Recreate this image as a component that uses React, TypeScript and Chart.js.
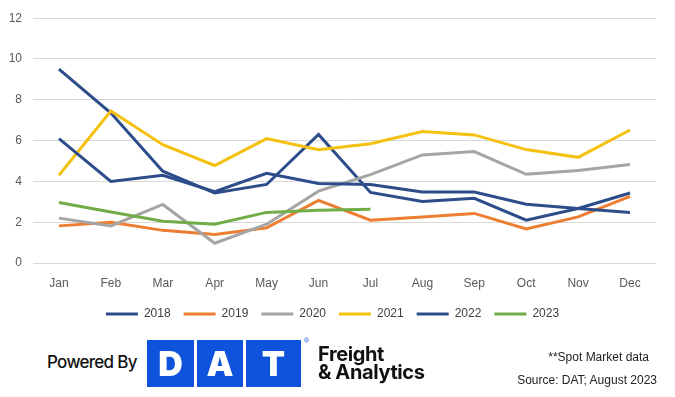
import React, { useEffect, useRef } from "react";
import { Chart, registerables } from "chart.js";

Chart.register(...registerables);

const months = ["Jan", "Feb", "Mar", "Apr", "May", "Jun", "Jul", "Aug", "Sep", "Oct", "Nov", "Dec"];
const yearLabels = ["2018", "2019", "2020", "2021", "2022", "2023"];
const s2018 = [9.5, 7.35, 4.5, 3.43, 3.85, 6.3, 3.46, 3.02, 3.17, 2.1, 2.67, 3.43];
const s2019 = [1.82, 2.0, 1.6, 1.4, 1.72, 3.07, 2.1, 2.25, 2.43, 1.67, 2.26, 3.27];
const s2020 = [2.2, 1.82, 2.87, 0.97, 1.9, 3.52, 4.33, 5.3, 5.46, 4.35, 4.54, 4.83];
const s2021 = [4.3, 7.45, 5.8, 4.78, 6.1, 5.55, 5.85, 6.44, 6.28, 5.56, 5.18, 6.52];
const s2022 = [6.1, 4.0, 4.3, 3.5, 4.4, 3.9, 3.85, 3.48, 3.48, 2.88, 2.67, 2.48];
const s2023 = [2.97, 2.5, 2.05, 1.9, 2.48, 2.58, 2.63];
const seriesValues = [s2018, s2019, s2020, s2021, s2022, s2023];
const seriesColors = ["#2C4D89", "#ED7D31", "#A5A5A5", "#F5C110", "#2C4D89", "#70AD47"];
const yTicks = [0, 2, 4, 6, 8, 10, 12];

const FONT = "'Liberation Sans', Arial, sans-serif";

export default function App() {
  const canvasRef = useRef<HTMLCanvasElement | null>(null);

  useEffect(() => {
    document.body.style.margin = "0";
    const canvas = canvasRef.current;
    if (!canvas) return;
    const chart = new Chart(canvas, {
      type: "line",
      data: {
        labels: months,
        datasets: seriesValues.map((vals, i) => ({
          label: yearLabels[i],
          data: vals,
          borderColor: seriesColors[i],
          backgroundColor: seriesColors[i],
          borderWidth: 3,
          pointRadius: 0,
          tension: 0,
          fill: false,
          order: seriesValues.length - i,
        })),
      },
      options: {
        responsive: false,
        animation: false,
        maintainAspectRatio: false,
        layout: { padding: { left: 9, right: 19, top: 10, bottom: 10 } },
        plugins: {
          tooltip: { enabled: false },
          legend: {
            position: "bottom",
            labels: {
              boxWidth: 32,
              boxHeight: 3,
              padding: 13,
              color: "#404040",
              font: { family: FONT, size: 12 },
              generateLabels: (c: any) =>
                Chart.defaults.plugins.legend.labels
                  .generateLabels(c)
                  .sort((a: any, b: any) => a.datasetIndex - b.datasetIndex)
                  .map((l: any) => ({ ...l, lineWidth: 0, fillStyle: l.strokeStyle })),
            },
          },
        },
        scales: {
          x: {
            offset: true,
            grid: { display: false, drawTicks: false },
            border: { display: false },
            ticks: { color: "#595959", font: { family: FONT, size: 12 }, padding: 13 },
            afterFit: (axis: any) => {
              axis.height = 32;
            },
          },
          y: {
            min: 0,
            max: 12,
            afterBuildTicks: (axis: any) => {
              axis.ticks = yTicks.map((v) => ({ value: v }));
            },
            afterFit: (axis: any) => {
              axis.width = 24;
            },
            grid: { color: "#D9D9D9", lineWidth: 1, drawTicks: false },
            border: { display: false },
            ticks: { color: "#595959", font: { family: FONT, size: 12 }, padding: 11 },
          },
        },
      },
    });
    return () => chart.destroy();
  }, []);

  return (
    <div style={{ position: "relative", width: 675, height: 397, background: "#fff", overflow: "hidden" }}>
      <canvas ref={canvasRef} width={675} height={340} style={{ position: "absolute", left: 0, top: 0 }} />
      <div
        style={{
          position: "absolute",
          left: 47,
          top: 352,
          fontFamily: "Inter, 'Liberation Sans', sans-serif",
          fontSize: 17,
          fontWeight: 500,
          letterSpacing: -0.7,
          color: "#111",
          lineHeight: "20px",
        }}
      >
        Powered By
      </div>
      {[
        { ch: "D", left: 147, w: 47 },
        { ch: "A", left: 197, w: 46 },
        { ch: "T", left: 246, w: 55 },
      ].map((b) => (
        <div
          key={b.ch}
          style={{
            position: "absolute",
            left: b.left,
            top: 340,
            width: b.w,
            height: 47,
            background: "#0F52DB",
            color: "#fff",
            fontFamily: "Inter, 'Liberation Sans', sans-serif",
            fontWeight: 900,
            fontSize: 34,
            lineHeight: "47px",
            textAlign: "center",
          }}
        >
          {b.ch}
        </div>
      ))}
      <div
        style={{
          position: "absolute",
          left: 304,
          top: 337,
          fontFamily: "'Liberation Sans', sans-serif",
          fontSize: 7,
          color: "#0F52DB",
        }}
      >
        ®
      </div>
      <div
        style={{
          position: "absolute",
          left: 318,
          top: 345,
          fontFamily: "Inter, 'Liberation Sans', sans-serif",
          fontWeight: 700,
          fontSize: 20,
          lineHeight: "18px",
          letterSpacing: -0.4,
          color: "#111",
        }}
      >
        Freight
        <br />& Analytics
      </div>
      <div
        style={{
          position: "absolute",
          right: 26,
          top: 350,
          fontFamily: "'Liberation Sans', Arial, sans-serif",
          fontSize: 12,
          color: "#222",
        }}
      >
        **Spot Market data
      </div>
      <div
        style={{
          position: "absolute",
          right: 18,
          top: 373,
          fontFamily: "'Liberation Sans', Arial, sans-serif",
          fontSize: 12,
          color: "#222",
        }}
      >
        Source: DAT; August 2023
      </div>
    </div>
  );
}
